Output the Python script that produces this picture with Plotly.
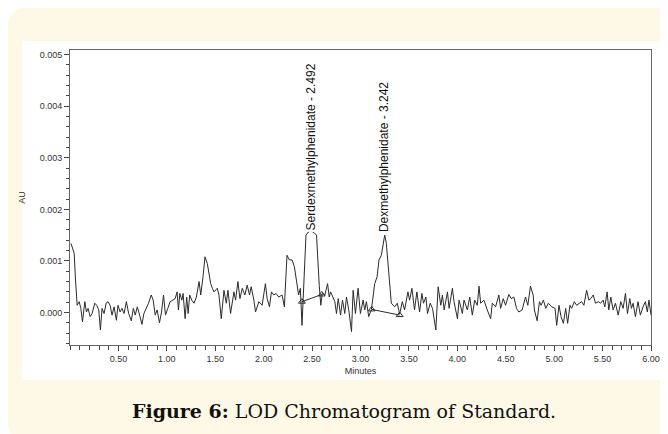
import plotly.graph_objects as go

# ---- data; values in units of 0.001 AU ----
times = [0.01, 0.043, 0.057, 0.074, 0.095, 0.112, 0.129, 0.153, 0.17, 0.187, 0.208, 0.228,
         0.256, 0.276, 0.297, 0.314, 0.331, 0.352, 0.373, 0.393, 0.414, 0.434, 0.455, 0.479,
         0.496, 0.517, 0.537, 0.558, 0.582, 0.606, 0.633, 0.654, 0.674, 0.695, 0.719, 0.743,
         0.763, 0.787, 0.811, 0.839, 0.859, 0.88, 0.9, 0.924, 0.945, 0.966, 0.986, 1.01,
         1.034, 1.062, 1.086, 1.106, 1.12, 1.134, 1.155, 1.168, 1.189, 1.205, 1.22, 1.236,
         1.257, 1.281, 1.305, 1.333, 1.35, 1.374, 1.394, 1.418, 1.435, 1.453, 1.47, 1.487,
         1.521, 1.538, 1.562, 1.59, 1.614, 1.631, 1.658, 1.693, 1.71, 1.734, 1.755, 1.779,
         1.806, 1.83, 1.854, 1.871, 1.899, 1.916, 1.95, 1.984, 2.018, 2.036, 2.06, 2.08,
         2.104, 2.128, 2.156, 2.19, 2.214, 2.241, 2.265, 2.293, 2.317, 2.344, 2.361, 2.379,
         2.396, 2.406, 2.437, 2.46, 2.49, 2.52, 2.546, 2.574, 2.59, 2.605, 2.632, 2.66,
         2.677, 2.691, 2.718, 2.735, 2.752, 2.77, 2.794, 2.814, 2.838, 2.855, 2.879, 2.907,
         2.924, 2.948, 2.975, 2.999, 3.027, 3.044, 3.061, 3.085, 3.113, 3.147, 3.171, 3.191,
         3.215, 3.232, 3.25, 3.267, 3.284, 3.301, 3.318, 3.353, 3.38, 3.404, 3.432, 3.455,
         3.49, 3.507, 3.531, 3.558, 3.582, 3.61, 3.634, 3.651, 3.675, 3.692, 3.72, 3.744,
         3.778, 3.802, 3.829, 3.846, 3.864, 3.898, 3.915, 3.949, 3.966, 4.001, 4.018, 4.052,
         4.069, 4.104, 4.128, 4.155, 4.179, 4.206, 4.224, 4.241, 4.275, 4.309, 4.344, 4.361,
         4.395, 4.429, 4.447, 4.474, 4.498, 4.532, 4.556, 4.584, 4.611, 4.635, 4.669, 4.704,
         4.728, 4.755, 4.783, 4.796, 4.824, 4.848, 4.865, 4.889, 4.913, 4.94, 4.975, 5.009,
         5.026, 5.05, 5.071, 5.095, 5.119, 5.139, 5.163, 5.18, 5.208, 5.232, 5.256, 5.283,
         5.307, 5.335, 5.359, 5.379, 5.403, 5.427, 5.455, 5.479, 5.506, 5.523, 5.547, 5.564,
         5.585, 5.609, 5.633, 5.661, 5.688, 5.712, 5.736, 5.757, 5.781, 5.798, 5.815, 5.839,
         5.866, 5.89, 5.918, 5.942, 5.962, 5.979, 6.0]
signal_mau = [1.34, 1.15, 0.63, 0.14, 0.21, 0.08, -0.18, 0.21, 0.01, 0.08, -0.08, -0.02,
              0.18, 0.14, 0.05, -0.34, 0.08, -0.02, 0.18, 0.21, 0.14, -0.05, 0.11, -0.15,
              0.14, 0.01, 0.08, -0.02, 0.21, -0.02, -0.16, 0.08, -0.05, 0.11, -0.05, -0.23,
              -0.02, 0.08, 0.18, 0.34, 0.24, -0.05, 0.05, -0.2, 0.01, 0.34, -0.05, 0.08,
              0.21, 0.24, 0.27, 0.40, 0.05, 0.37, 0.24, 0.37, -0.12, 0.30, -0.02, 0.34,
              0.24, 0.18, 0.30, 0.60, 0.34, 0.70, 1.08, 0.95, 0.72, 0.56, 0.47, 0.40,
              0.47, 0.34, -0.12, 0.43, 0.18, 0.43, -0.02, 0.40, 0.24, 0.60, 0.27, 0.47,
              0.34, 0.53, 0.34, 0.50, 0.24, 0.01, 0.21, 0.14, 0.56, 0.27, 0.11, 0.40,
              0.34, 0.37, 0.30, 0.34, 0.11, 1.11, 1.02, 1.02, 0.89, 0.56, 0.34, 0.47,
              -0.25, 0.18, 1.50, 1.56, 1.58, 1.55, 1.50, 0.52, 0.14, 0.37, 0.34, 0.56,
              0.30, 0.40, 0.27, 0.21, -0.02, 0.27, -0.05, 0.24, -0.02, 0.30, 0.05, -0.37,
              0.43, -0.02, 0.47, -0.02, 0.24, 0.05, 0.21, -0.08, 0.06, 0.56, 0.69, 1.02,
              1.11, 1.34, 1.50, 1.34, 0.89, 0.43, 0.18, 0.11, 0.18, -0.03, 0.21, 0.05,
              0.40, 0.24, 0.47, 0.05, 0.40, 0.01, 0.37, 0.18, 0.30, -0.02, 0.18, 0.08,
              -0.34, 0.50, 0.14, 0.34, 0.05, 0.40, 0.08, 0.47, 0.21, -0.12, 0.24, -0.02,
              0.24, 0.05, 0.30, -0.05, 0.24, 0.14, 0.51, 0.18, 0.24, 0.05, -0.12, 0.18,
              0.11, 0.34, 0.08, 0.27, 0.14, 0.35, 0.27, 0.30, 0.08, 0.01, 0.05, 0.30,
              0.14, 0.51, 0.34, 0.05, -0.16, 0.21, 0.14, 0.24, 0.08, 0.18, 0.11, 0.08,
              -0.25, 0.14, -0.08, -0.21, 0.08, -0.21, 0.14, 0.08, 0.21, 0.14, 0.18, 0.21,
              0.14, 0.43, 0.24, 0.27, 0.34, 0.18, 0.21, 0.18, 0.24, 0.11, 0.40, 0.05,
              0.30, 0.05, 0.18, -0.05, 0.21, 0.08, 0.37, -0.02, 0.27, 0.08, 0.18, -0.08,
              0.21, -0.05, 0.11, 0.21, 0.01, 0.24, -0.05]

# integration baselines (start / end of each peak)
base1_t = [2.395, 2.60]
base1_v = [0.21, 0.35]
base2_t = [3.116, 3.404]
base2_v = [0.06, -0.05]

peak_names = ["Serdexmethylphenidate - 2.492", "Dexmethylphenidate - 3.242"]
peak_rt = [2.492, 3.242]
peak_label_v = [1.55, 1.52]

x_tickvals = [0.5, 1.0, 1.5, 2.0, 2.5, 3.0, 3.5, 4.0, 4.5, 5.0, 5.5, 6.0]
y_tickvals = [0.000, 0.001, 0.002, 0.003, 0.004, 0.005]

caption = "<b>Figure 6:</b> LOD Chromatogram of Standard."

# ---- figure ----
W, H = 668, 434
ML, MR, MT, MB = 62, 25, 42, 97
PW, PH = W - ML - MR, H - MT - MB

def px(x):
    return (x - ML) / PW

def py(y):
    return (H - MB - y) / PH

scale = 0.001
ys = [v * scale for v in signal_mau]

fig = go.Figure()
fig.add_trace(go.Scatter(x=times, y=ys, mode="lines",
                         line=dict(color="#2b2b2b", width=1), hoverinfo="skip",
                         showlegend=False))
for bt, bv in ((base1_t, base1_v), (base2_t, base2_v)):
    fig.add_trace(go.Scatter(x=bt, y=[v * scale for v in bv], mode="lines+markers",
                             line=dict(color="#2b2b2b", width=1),
                             marker=dict(symbol="triangle-up-open", size=6,
                                         color="#2b2b2b", line=dict(width=1)),
                             showlegend=False, hoverinfo="skip"))

for name, rt, lv in zip(peak_names, peak_rt, peak_label_v):
    fig.add_annotation(x=rt, y=lv * scale, text=name, textangle=-90,
                       showarrow=False, xanchor="center", yanchor="bottom",
                       bgcolor="white",
                       font=dict(family="Liberation Sans, Arial", size=12, color="#111"))

# background: cream rounded card + white chart panel
r = 20
def rpath(x0, y0, x1, y1, r):
    pts = []
    pts.append(f"M {px(x0 + r)},{py(y0)}")
    pts.append(f"L {px(x1 - r)},{py(y0)}")
    pts.append(f"Q {px(x1)},{py(y0)} {px(x1)},{py(y0 + r)}")
    pts.append(f"L {px(x1)},{py(y1 - r)}")
    pts.append(f"Q {px(x1)},{py(y1)} {px(x1 - r)},{py(y1)}")
    pts.append(f"L {px(x0 + r)},{py(y1)}")
    pts.append(f"Q {px(x0)},{py(y1)} {px(x0)},{py(y1 - r)}")
    pts.append(f"L {px(x0)},{py(y0 + r)}")
    pts.append(f"Q {px(x0)},{py(y0)} {px(x0 + r)},{py(y0)}")
    pts.append("Z")
    return " ".join(pts)

fig.add_shape(type="path", path=rpath(0, 0, W, H, r), xref="paper", yref="paper",
              fillcolor="#fdf9e6", line=dict(width=0), layer="below")
fig.add_shape(type="rect", x0=px(14), x1=px(657), y0=py(33), y1=py(372),
              xref="paper", yref="paper", fillcolor="white", line=dict(width=0),
              layer="below")

fig.add_annotation(x=px(336), y=py(403), xref="paper", yref="paper", text=caption,
                   showarrow=False, xanchor="center", yanchor="middle",
                   font=dict(family="DejaVu Serif", size=19, color="#111"))

fig.update_layout(
    width=W, height=H,
    margin=dict(l=ML, r=MR, t=MT, b=MB, pad=0),
    paper_bgcolor="white",
    plot_bgcolor="rgba(0,0,0,0)",
    font=dict(family="Liberation Sans, Arial", size=9, color="#333"),
)
fig.update_xaxes(range=[0.0, 6.0], tickvals=x_tickvals, tickformat=".2f",
                 showgrid=False, zeroline=False, showline=True, linecolor="#666",
                 linewidth=1, mirror=True, ticks="outside", ticklen=5, tickcolor="#444",
                 minor=dict(dtick=0.1, tick0=0, ticks="outside", ticklen=4, tickcolor="#444"),
                 title=dict(text="Minutes", font=dict(size=9, color="#333"), standoff=4),
                 tickfont=dict(size=9, color="#333"))
fig.update_yaxes(range=[-0.00063, 0.00509], tickvals=y_tickvals, tickformat=".3f",
                 showgrid=False, zeroline=False, showline=True, linecolor="#666",
                 linewidth=1, mirror=True, ticks="outside", ticklen=5, tickcolor="#444",
                 minor=dict(dtick=0.0002, tick0=0, ticks="outside", ticklen=3, tickcolor="#444"),
                 title=dict(text="AU", font=dict(size=9, color="#333"), standoff=12),
                 tickfont=dict(size=9, color="#333"))

fig.write_html("out.html")
